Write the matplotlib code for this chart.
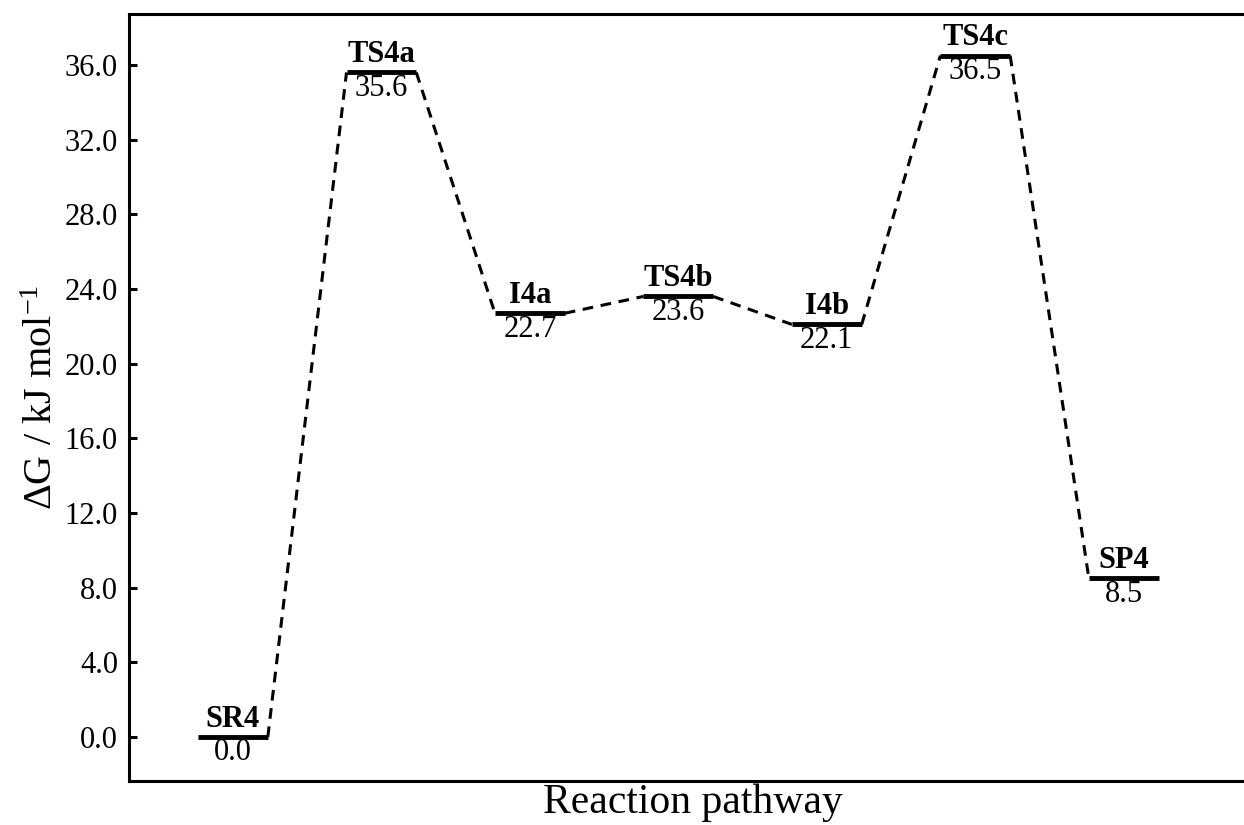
import matplotlib
matplotlib.use("Agg")
import matplotlib.pyplot as plt

species = ["SR4", "TS4a", "I4a", "TS4b", "I4b", "TS4c", "SP4"]
energies = [0.0, 35.6, 22.7, 23.6, 22.1, 36.5, 8.5]
value_labels = ["0.0", "35.6", "22.7", "23.6", "22.1", "36.5", "8.5"]
yticks = [0.0, 4.0, 8.0, 12.0, 16.0, 20.0, 24.0, 28.0, 32.0, 36.0]

plt.rcParams['font.family'] = ['Liberation Serif', 'DejaVu Serif']
plt.rcParams['mathtext.fontset'] = 'custom'
plt.rcParams['mathtext.rm'] = 'Liberation Serif'
plt.rcParams['mathtext.it'] = 'Liberation Serif:italic'
plt.rcParams['mathtext.bf'] = 'Liberation Serif:bold'

fig = plt.figure(figsize=(12.44, 8.25), dpi=100)
ax = fig.add_axes([0.1037, 0.0533, 0.8963 + 0.01, 0.9297])

hw = 0.235
for i, (name, e, lab) in enumerate(zip(species, energies, value_labels)):
    ax.plot([i - hw, i + hw], [e, e], color='black', lw=3.5, solid_capstyle='butt', zorder=3)
    ax.annotate(name, (i, e), xytext=(0, 2.5), textcoords='offset points',
                ha='center', va='bottom', fontsize=22, fontweight='bold')
    ax.annotate(lab, (i, e), xytext=(0, -1), textcoords='offset points',
                ha='center', va='top', fontsize=22)
    if i < len(species) - 1:
        ax.plot([i + hw, i + 1 - hw], [e, energies[i + 1]], color='black', lw=2.2,
                linestyle=(0, (3.5, 2.5)), zorder=2)

ax.set_xlim(-0.70, 6.81 + 0.01 * 12.44 * 100 / 148.5)
ax.set_ylim(-2.36, 38.73)
ax.set_yticks(yticks)
ax.set_yticklabels([f"{t:.1f}" for t in yticks], fontsize=22)
ax.set_xticks([])
ax.tick_params(axis='y', direction='in', length=6, width=2.2, pad=8)
for s in ['left', 'bottom', 'top']:
    ax.spines[s].set_linewidth(2.2)
ax.spines['right'].set_visible(False)

ax.set_xlabel("Reaction pathway", fontsize=30, labelpad=2)
ax.set_ylabel(r"ΔG / kJ mol$^{\mathregular{-1}}$", fontsize=29, labelpad=2.5)

fig.savefig("out.png", dpi=100)
